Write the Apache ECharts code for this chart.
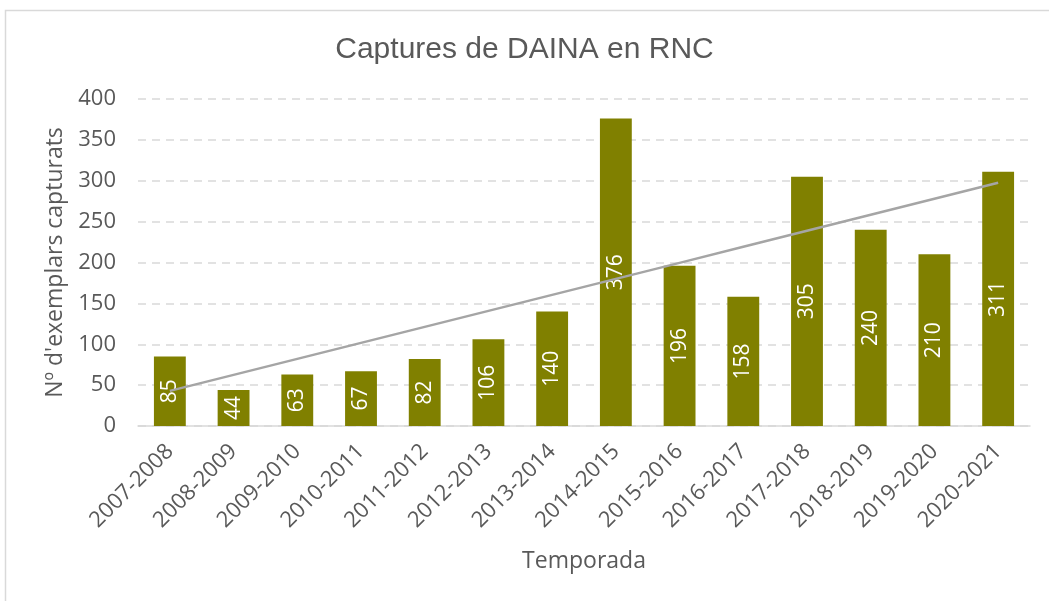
<!DOCTYPE html>
<html>
<head>
<meta charset="utf-8">
<script src="https://cdn.jsdelivr.net/npm/echarts@6/dist/echarts.min.js"></script>
<style>
    html, body { margin: 0; padding: 0; background: #fff; }
    #chart { width: 1049px; height: 601px; }
</style>
</head>
<body>
<div id="chart"></div>
<script>
const seasons = ['2007-2008', '2008-2009', '2009-2010', '2010-2011', '2011-2012', '2012-2013', '2013-2014',
    '2014-2015', '2015-2016', '2016-2017', '2017-2018', '2018-2019', '2019-2020', '2020-2021']
const captures = [85, 44, 63, 67, 82, 106, 140, 376, 196, 158, 305, 240, 210, 311]
const yTicks = [0, 50, 100, 150, 200, 250, 300, 350, 400]

// linear trendline (least squares), same as the spreadsheet one
const n = captures.length
const meanX = (n - 1) / 2
const meanY = captures.reduce((s, v) => s + v, 0) / n
let sxy = 0, sxx = 0
captures.forEach((v, i) => {
    sxy += (i - meanX) * (v - meanY)
    sxx += (i - meanX) * (i - meanX)
})
const slope = sxy / sxx
const trend = captures.map((v, i) => +(meanY + slope * (i - meanX)).toFixed(2))

const gray = '#595959'
const font = '"Open Sans", "Noto Sans", sans-serif'

const chart = echarts.init(document.getElementById('chart'))

chart.setOption({
    animation: false,
    textStyle: { fontFamily: font },
    graphic: [{
        type: 'rect',
        shape: { x: 5.5, y: 10.5, width: 1100, height: 700 },
        style: { fill: 'none', stroke: '#d9d9d9', lineWidth: 1.5 },
        silent: true
    }],
    title: {
        text: 'Captures de DAINA en RNC',
        left: 'center',
        top: 30,
        textStyle: {
            fontFamily: '"Liberation Sans", sans-serif',
            fontSize: 30,
            fontWeight: 'normal',
            color: gray
        }
    },
    grid: {
        left: 138,
        right: 19,
        top: 99,
        bottom: 175
    },
    xAxis: {
        type: 'category',
        data: seasons,
        name: 'Temporada',
        nameLocation: 'middle',
        nameGap: 124,
        nameTextStyle: { fontSize: 23, color: gray, fontFamily: font },
        axisTick: { show: false },
        axisLine: { lineStyle: { color: '#d9d9d9', width: 1.5 } },
        axisLabel: {
            rotate: 45,
            interval: 0,
            fontSize: 22,
            color: gray,
            margin: 22
        }
    },
    yAxis: {
        type: 'value',
        min: 0,
        max: yTicks[yTicks.length - 1],
        interval: yTicks[1] - yTicks[0],
        name: "Nº d'exemplars capturats",
        nameLocation: 'middle',
        nameGap: 63,
        nameTextStyle: { fontSize: 23, color: gray, fontFamily: font },
        axisLine: { show: false },
        axisTick: { show: false },
        axisLabel: { fontSize: 22, color: gray, margin: 22 },
        splitLine: {
            lineStyle: { color: '#d9d9d9', type: [8, 6], width: 1.5 }
        }
    },
    series: [{
        type: 'bar',
        name: 'Captures',
        data: captures,
        barWidth: '50%',
        itemStyle: { color: '#808000' },
        label: {
            show: true,
            position: 'inside',
            rotate: 90,
            color: '#ffffff',
            fontSize: 21,
            fontFamily: font
        },
        z: 2
    }, {
        type: 'line',
        name: 'Tendència',
        data: trend,
        showSymbol: false,
        symbol: 'none',
        lineStyle: { color: '#a5a5a5', width: 2.5 },
        z: 3
    }]
})
</script>
</body>
</html>
